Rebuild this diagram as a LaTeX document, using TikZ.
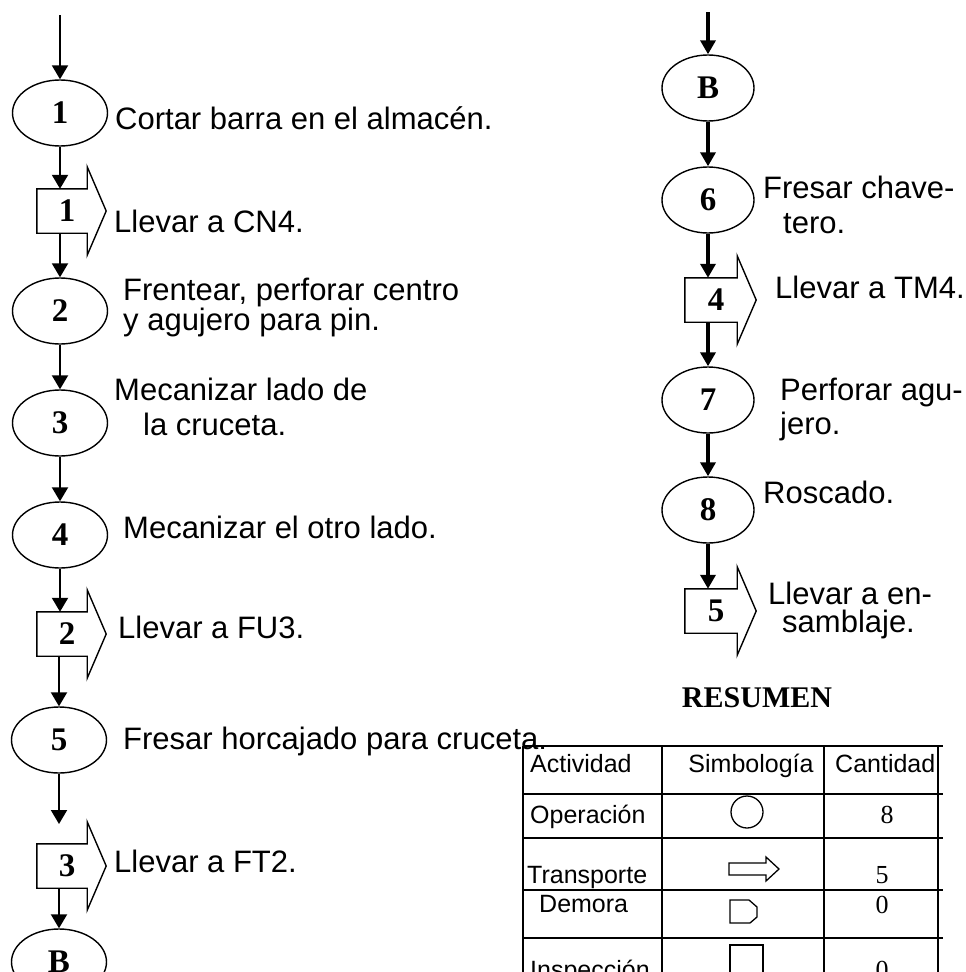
\documentclass[tikz,border=0pt]{standalone}
\usepackage{fontspec}
\setmainfont{Liberation Serif}
\setsansfont{Liberation Sans}
\usetikzlibrary{shapes.geometric,arrows.meta,calc}

\tikzset{
  op/.style={draw, ellipse, line width=1.4pt, minimum width=95pt, minimum height=66pt, inner sep=0pt,
    font=\fontsize{33}{33}\selectfont\bfseries},
  transp/.style={minimum width=50pt, minimum height=44pt, inner sep=0pt,
    font=\fontsize{33}{33}\selectfont\bfseries},
  flecha/.style={line width=2pt, -{Triangle[length=14pt,width=16pt]}},
  flechab/.style={line width=3.5pt, -{Triangle[length=14pt,width=15pt]}},
  txt/.style={anchor=base west, align=left, inner sep=0pt, font=\sffamily\fontsize{31}{35}\selectfont},
  tab/.style={anchor=base west, inner sep=0pt, font=\sffamily\fontsize{25}{25}\selectfont},
  num/.style={anchor=base, inner sep=0pt, font=\fontsize{26}{26}\selectfont},
}

\begin{document}
\begin{tikzpicture}[x=1pt, y=1pt]
  \useasboundingbox (0,0) rectangle (966,-972);
  \clip (0,0) rectangle (966,-972);

  % columna izquierda
  \coordinate (ini) at (60,-15);
  \node [op] (e1) at (60,-113) {1};
  \node [transp] (t1) at (62,-211) {\hspace*{10pt}1};
  \node [op] (e2) at (60,-311) {2};
  \node [op] (e3) at (60,-423) {3};
  \node [op] (e4) at (60,-535) {4};
  \node [transp] (t2) at (62,-634) {\hspace*{10pt}2};
  \node [op] (e5) at (59,-740) {5};
  \coordinate (g3) at (59,-824);
  \node [transp] (t3) at (62,-866) {\hspace*{10pt}3};
  \node [op] (b1) at (59,-962) {B};

  \draw [flecha] (ini) -- (e1);
  \draw [flecha] (e1) -- (e1 |- t1.north);
  \draw [flecha] (e1 |- t1.south) -- (e2);
  \draw [flecha] (e2) -- (e3);
  \draw [flecha] (e3) -- (e4);
  \draw [flecha] (e4) -- (e4 |- t2.north);
  \draw [flecha] (e5 |- t2.south) -- (e5);
  \draw [flecha] (e5) -- (g3);
  \draw [flecha] (b1 |- t3.south) -- (b1);

  % columna derecha
  \coordinate (ini2) at (708,-12);
  \node [op, minimum width=92pt] (b2) at (708,-88) {B};
  \node [op, minimum width=92pt] (e6) at (708,-200) {6};
  \node [transp, minimum width=52pt] (t4) at (711,-300) {\hspace*{10pt}4};
  \node [op, minimum width=92pt] (e7) at (708,-400) {7};
  \node [op, minimum width=92pt] (e8) at (708,-510) {8};
  \node [transp, minimum width=52pt] (t5) at (711,-611) {\hspace*{10pt}5};

  \draw [flechab] (ini2) -- (b2);
  \draw [flechab] (b2) -- (e6);
  \draw [flechab] (e6) -- (e6 |- t4.north);
  \draw [flechab] (e6 |- t4.south) -- (e7);
  \draw [flechab] (e7) -- (e8);
  \draw [flechab] (e8) -- (e8 |- t5.north);

  % flechas de transporte
  \foreach \t in {t1,t2,t3,t4,t5}
    \draw [line width=1.4pt] (\t.north west) -- (\t.north east) -- ++(0,22)
      -- ($(\t.east)+(19,0)$) -- ($(\t.south east)+(0,-22)$) -- (\t.south east)
      -- (\t.south west) -- cycle;

  % textos
  \node [txt] (l1) at (115,-129) {Cortar barra en el almacén.};
  \node [txt] (l2) at (114,-232) {Llevar a CN4.};
  \node [txt] (l3) at (123,-330) {Frentear, perforar centro\\[-5pt]y agujero para pin.};
  \node [txt] (l4) at (114,-435) {Mecanizar lado de\\\hspace*{29pt}la cruceta.};
  \node [txt] (l5) at (123,-538) {Mecanizar el otro lado.};
  \node [txt] (l6) at (118,-638) {Llevar a FU3.};
  \node [txt] (l7) at (123,-749) {Fresar horcajado para cruceta.};
  \node [txt] (l8) at (114,-872) {Llevar a FT2.};
  \node [txt] (l9) at (763,-233) {Fresar chave-\\\hspace*{20pt}tero.};
  \node [txt] (l10) at (775,-298) {Llevar a TM4.};
  \node [txt] (l11) at (780,-434) {Perforar agu-\\[-1pt]jero.};
  \node [txt] (l12) at (763,-503) {Roscado.};
  \node [txt] (l13) at (768,-632) {Llevar a en-\\[-7pt]\hspace*{14pt}samblaje.};

  % resumen
  \node [anchor=base, inner sep=0pt, font=\fontsize{30}{30}\selectfont\bfseries] (res) at (757,-707) {RESUMEN};

  \foreach \y in {746,794,838,890,938}
    \draw [line width=1.5pt] (523,-\y) -- (943,-\y);
  \foreach \x in {523,662,824,938}
    \draw [line width=1.5pt] (\x,-746) -- (\x,-990);

  \node [tab] (h1) at (530,-772) {Actividad};
  \node [tab, anchor=base] (h2) at (751,-772) {Simbología};
  \node [tab] (h3) at (835,-772) {Cantidad};
  \node [tab] (a1) at (530,-823) {Operación};
  \node [tab] (a2) at (527,-883) {Transporte};
  \node [tab] (a3) at (539,-912) {Demora};
  \node [tab] (a4) at (530,-978) {Inspección};
  \node [num] (n1) at (887,-823) {8};
  \node [num] (n2) at (882,-883) {5};
  \node [num] (n3) at (882,-913) {0};
  \node [num] (n4) at (882,-978) {0};

  % simbolos
  \draw [line width=1.3pt] (747,-812) circle (16pt);
  \draw [line width=1.3pt] (729,-863) -- (766,-863) -- (766,-857) -- (779,-869)
    -- (766,-881) -- (766,-875) -- (729,-875) -- cycle;
  \draw [line width=1.3pt] (730,-900) -- (749,-900) -- (757,-907) -- (757,-917)
    -- (750,-923) -- (730,-923) -- cycle;
  \draw [line width=1.3pt] (730,-945) rectangle (763,-995);
\end{tikzpicture}
\end{document}
